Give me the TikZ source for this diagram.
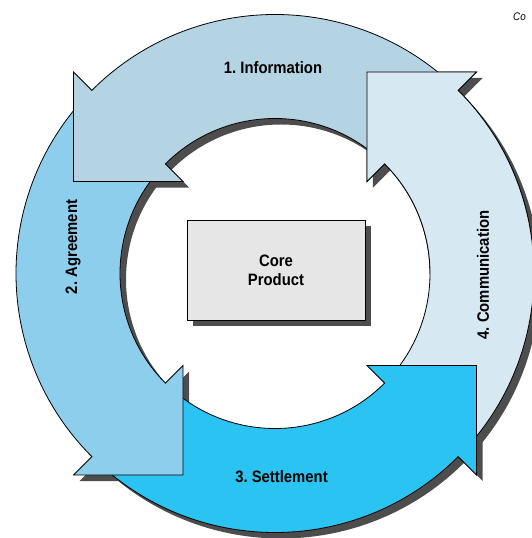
\documentclass[tikz,border=0pt]{standalone}
\usepackage{fontspec}
\newfontfamily\labelfont{Liberation Sans}[FakeStretch=0.9]
\usetikzlibrary{positioning,shadows}
\definecolor{infocol}{RGB}{180,212,228}
\definecolor{agreecol}{RGB}{142,206,237}
\definecolor{settlecol}{RGB}{43,196,242}
\definecolor{commcol}{RGB}{214,232,241}
\definecolor{corecol}{RGB}{230,230,230}
\definecolor{shadowcol}{RGB}{77,77,77}

% one piece of the ring, from tail angle #1 to head angle #2
\newcommand{\ringsegment}[2]{
  (#1:259) arc[start angle=#1, end angle=#2, radius=259]
  -- (#2:285) -- (#2+20.48:221.5) -- (#2:130) -- (#2:155)
  arc[start angle=#2, end angle=#1, radius=155] -- cycle}

\begin{document}
\begin{tikzpicture}[
  x=1pt,y=1pt,
  ringline/.style={draw=black,line width=0.8pt,line join=miter},
  ringshadow/.style={fill=shadowcol},
  ringtext/.style={font=\labelfont\bfseries\fontsize{16.5}{20}\selectfont,inner sep=0},
  corebox/.style={
    draw,
    line width=0.8pt,
    fill=corecol,
    minimum width=178,
    minimum height=100,
    align=center,
    font=\labelfont\bfseries\fontsize{16.5}{19}\selectfont,
    drop shadow={shadow xshift=6pt,shadow yshift=-6pt,fill=shadowcol,opacity=1}
  }
]
\useasboundingbox (0,0) rectangle (531,538);

\begin{scope}[shift={(275,264.5)}]
  % shadows of the ring
  \begin{scope}[shift={(6,-6)}]
    \fill[ringshadow] \ringsegment{-45}{45};
    \fill[ringshadow] \ringsegment{225}{315};
    \fill[ringshadow] \ringsegment{135}{225};
    \fill[ringshadow] \ringsegment{45}{135};
  \end{scope}
  \filldraw[ringline,fill=commcol] \ringsegment{-45}{45};
  \filldraw[ringline,fill=settlecol] \ringsegment{225}{315};
  \filldraw[ringline,fill=agreecol] \ringsegment{135}{225};
  \filldraw[ringline,fill=infocol] \ringsegment{45}{135};
  % communication head lies over the information tail
  \begin{scope}
    \clip (0,0) rectangle (300,300);
    \filldraw[ringline,fill=commcol] \ringsegment{-45}{45};
  \end{scope}
\end{scope}

\node[ringtext] (info) at (273,470) {1.~Information};
\node[ringtext,rotate=90] (agree) at (73,291) {2.~Agreement};
\node[ringtext] (settle) at (281.5,61) {3.~Settlement};
\node[ringtext,rotate=90] (comm) at (483,263) {4.~Communication};

\node[corebox] (core) at (276,268) {Core\\Product};

\node[anchor=west,inner sep=0,font=\labelfont\itshape\fontsize{11}{13}\selectfont] (credit) at (513,521) {Co};

\end{tikzpicture}
\end{document}
